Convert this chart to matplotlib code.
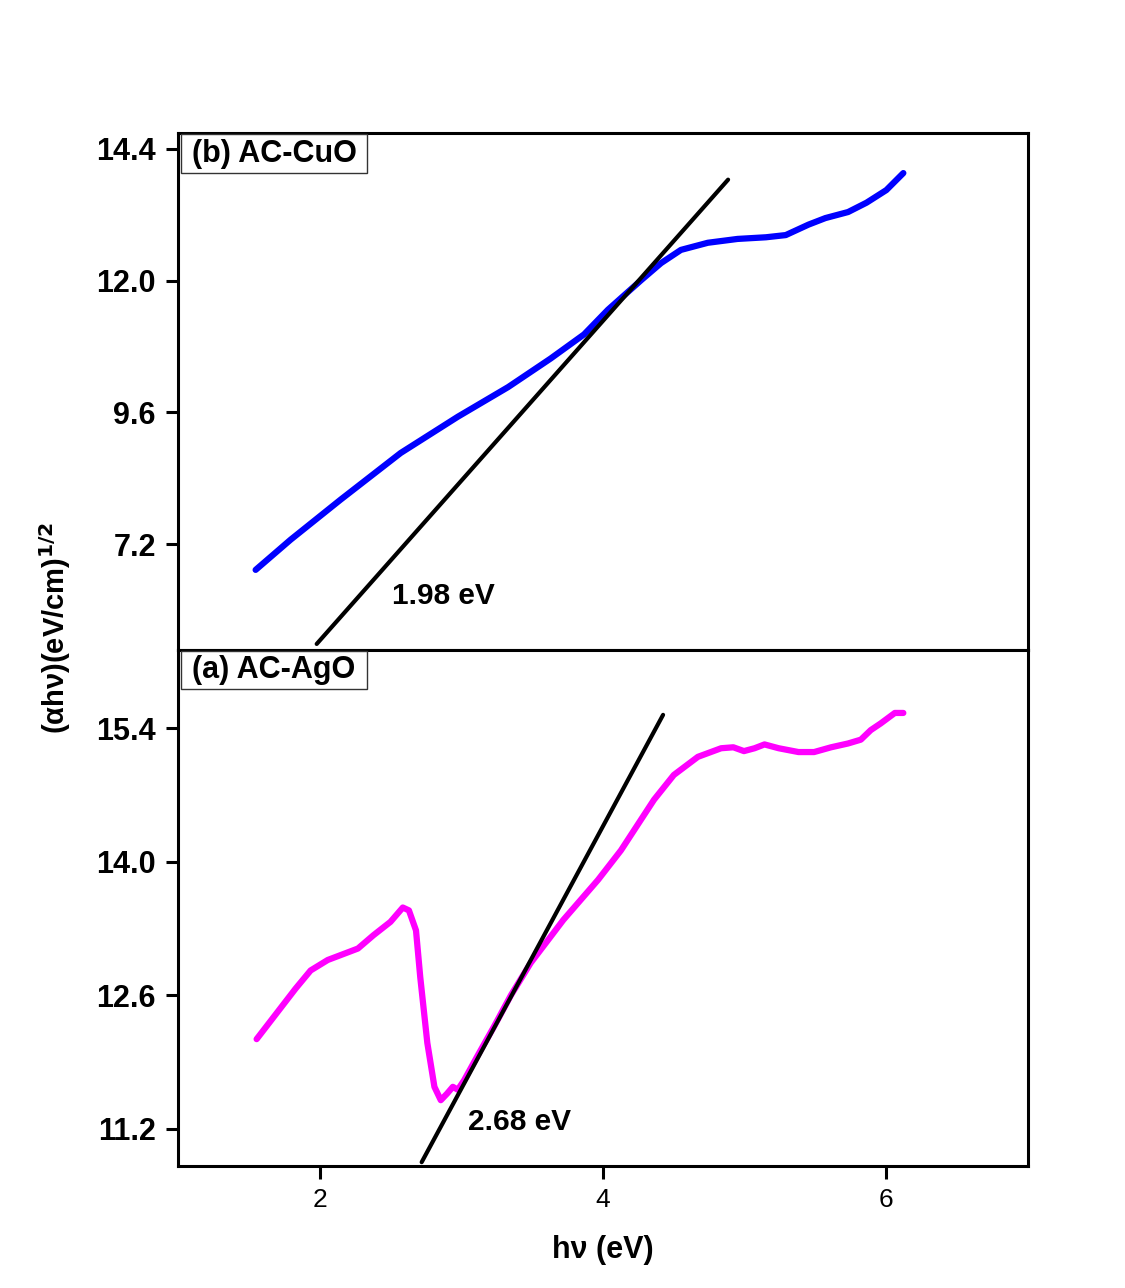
import matplotlib
matplotlib.use("Agg")
import matplotlib.pyplot as plt
from matplotlib.patches import Rectangle

plt.rcParams['font.family'] = ['Liberation Sans', 'DejaVu Sans']

# CuO (panel b)
cuo_x = [1.548, 1.795, 2.148, 2.572, 2.975, 3.33, 3.63, 3.866, 4.035, 4.27, 4.41, 4.55,
         4.74, 4.95, 5.15, 5.29, 5.45, 5.57, 5.73, 5.86, 6.0, 6.12]
cuo_y = [6.73, 7.28, 8.01, 8.86, 9.52, 10.06, 10.58, 11.02, 11.47, 12.01, 12.32, 12.56,
         12.69, 12.76, 12.79, 12.83, 13.02, 13.14, 13.25, 13.42, 13.65, 13.96]
cuo_fit_x = [1.979, 4.883]
cuo_fit_y = [5.38, 13.84]

# AgO (panel a)
ago_x = [1.555, 1.83, 1.936, 2.057, 2.27, 2.38, 2.50, 2.587, 2.63, 2.68, 2.71, 2.76,
         2.81, 2.855, 2.90, 2.94, 2.975, 3.02, 3.12, 3.23, 3.35, 3.49, 3.72, 3.965, 4.127,
         4.25, 4.36, 4.50, 4.67, 4.834, 4.92, 4.995, 5.07, 5.14, 5.24, 5.38, 5.49,
         5.61, 5.73, 5.82, 5.89, 5.96, 6.06, 6.12]
ago_y = [12.14, 12.67, 12.86, 12.97, 13.09, 13.23, 13.37, 13.52, 13.49, 13.28, 12.79, 12.10,
         11.64, 11.50, 11.57, 11.64, 11.61, 11.71, 11.98, 12.27, 12.60, 12.94, 13.39, 13.81, 14.12,
         14.40, 14.65, 14.91, 15.10, 15.19, 15.20, 15.16, 15.19, 15.23, 15.19, 15.15, 15.15,
         15.20, 15.24, 15.28, 15.38, 15.45, 15.56, 15.56]
ago_fit_x = [2.72, 4.424]
ago_fit_y = [10.85, 15.54]

xticks = [2, 4, 6]
yticks_b = [7.2, 9.6, 12.0, 14.4]
yticks_a = [11.2, 12.6, 14.0, 15.4]

W, H = 1125, 1288
fig = plt.figure(figsize=(W / 100, H / 100), dpi=100)
left, right = 178 / W, 1028 / W
ymid = 1 - 650 / H
ytop = 1 - 133 / H
ybot = 1 - 1166 / H
ax_b = fig.add_axes([left, ymid, right - left, ytop - ymid])
ax_a = fig.add_axes([left, ybot, right - left, ymid - ybot])

for ax in (ax_a, ax_b):
    for sp in ax.spines.values():
        sp.set_linewidth(2.2)
    ax.set_xlim(1, 7)
    ax.tick_params(axis='both', direction='out', length=9, width=2.2, pad=7)

ax_b.plot(cuo_x, cuo_y, color='#0000ff', lw=4.5, solid_capstyle='round',
          solid_joinstyle='round', zorder=3)
ax_b.plot(cuo_fit_x, cuo_fit_y, color='black', lw=3, solid_capstyle='round', zorder=4)
ax_b.set_ylim(5.27, 14.69)
ax_b.set_yticks(yticks_b)
ax_b.set_yticklabels([f"{v:.1f}" for v in yticks_b], fontweight='bold', fontsize=22)
ax_b.set_xticks([])
ax_b.text(2.876, 6.26, "1.98 eV", fontsize=21.5, fontweight='bold', ha='center', va='center')

ax_a.plot(ago_x, ago_y, color='#ff00ff', lw=4.5, solid_capstyle='round',
          solid_joinstyle='round', zorder=3)
ax_a.plot(ago_fit_x, ago_fit_y, color='black', lw=3, solid_capstyle='round', zorder=4)
ax_a.set_ylim(10.81, 16.22)
ax_a.set_yticks(yticks_a)
ax_a.set_yticklabels([f"{v:.1f}" for v in yticks_a], fontweight='bold', fontsize=22)
ax_a.set_xticks(xticks)
ax_a.set_xticklabels([str(v) for v in xticks], fontsize=19)
ax_a.text(3.41, 11.27, "2.68 eV", fontsize=21.5, fontweight='bold', ha='center', va='center')

# panel label boxes
for ax, txt, (y0, y1) in ((ax_b, "(b) AC-CuO", (0.9226, 0.998)),
                          (ax_a, "(a) AC-AgO", (0.9244, 0.998))):
    ax.add_patch(Rectangle((0.0035, y0), 0.2189, y1 - y0, transform=ax.transAxes,
                           facecolor='white', edgecolor='#333333', linewidth=1.0, zorder=5))
    ax.text(0.113, (y0 + y1) / 2, txt, transform=ax.transAxes, fontsize=22, fontweight='bold',
            ha='center', va='center', zorder=6)

fig.text(603 / W, 1 - 1250 / H, "h\u03bd (eV)", fontsize=22, fontweight='bold',
         ha='center', va='center')
fig.text(55 / W, 1 - 628 / H, "(\u03b1h\u03bd)(eV/cm)$^{\\mathbf{1/2}}$", rotation=90,
         fontsize=21, fontweight='bold', ha='center', va='center')

fig.savefig("out.png", dpi=100)
